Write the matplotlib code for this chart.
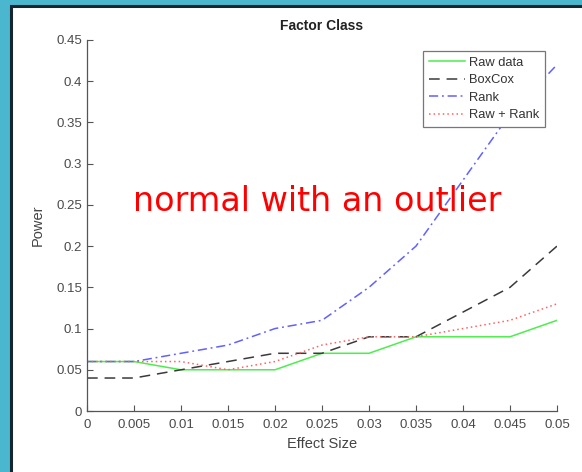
import numpy as np
import matplotlib
matplotlib.use('Agg')
import matplotlib.pyplot as plt
from matplotlib.patches import Rectangle

# effect sizes and power for each method
effect_size = [0, 0.005, 0.01, 0.015, 0.02, 0.025, 0.03, 0.035, 0.04, 0.045, 0.05]
raw_data = [0.06, 0.06, 0.05, 0.05, 0.05, 0.07, 0.07, 0.09, 0.09, 0.09, 0.11]
boxcox = [0.04, 0.04, 0.05, 0.06, 0.07, 0.07, 0.09, 0.09, 0.12, 0.15, 0.20]
rank = [0.06, 0.06, 0.07, 0.08, 0.10, 0.11, 0.15, 0.20, 0.28, 0.36, 0.42]
raw_rank = [0.06, 0.06, 0.06, 0.05, 0.06, 0.08, 0.09, 0.09, 0.10, 0.11, 0.13]

x_ticks = [0, 0.005, 0.01, 0.015, 0.02, 0.025, 0.03, 0.035, 0.04, 0.045, 0.05]
x_labels = ['0', '0.005', '0.01', '0.015', '0.02', '0.025', '0.03', '0.035', '0.04', '0.045', '0.05']
y_ticks = [0, 0.05, 0.1, 0.15, 0.2, 0.25, 0.3, 0.35, 0.4, 0.45]
y_labels = ['0', '0.05', '0.1', '0.15', '0.2', '0.25', '0.3', '0.35', '0.4', '0.45']

plt.rcParams['font.family'] = ['Liberation Sans', 'DejaVu Sans']

fig = plt.figure(figsize=(5.82, 4.72), dpi=100, facecolor='#4bb7cf')
# white sheet with a dark frame, kept behind the axes
sheet = Rectangle((11 / 582, -0.05), 1.2, 1 - 6 / 472 + 0.05,
                  transform=fig.transFigure, facecolor='white',
                  edgecolor='#17252e', linewidth=2.2, zorder=-10)
fig.add_artist(sheet)

ax = fig.add_axes([87 / 582, 61 / 472, 470 / 582, 371 / 472])
ax.set_zorder(1)
ax.set_facecolor('white')

ax.plot(effect_size, raw_data, color='#4cee4c', lw=1.1, label='Raw data')
ax.plot(effect_size, boxcox, color='#3a3a3a', lw=1.1, ls=(0, (7, 4.5)), label='BoxCox')
ax.plot(effect_size, rank, color='#6161ff', lw=1.1, ls=(0, (6, 2.5, 1.2, 2.5)), label='Rank')
ax.plot(effect_size, raw_rank, color='#ff6161', lw=1.1, ls=(0, (1, 2)), label='Raw + Rank')

ax.set_xlim(0, 0.05)
ax.set_ylim(0, 0.45)
ax.set_xticks(x_ticks)
ax.set_xticklabels(x_labels)
ax.set_yticks(y_ticks)
ax.set_yticklabels(y_labels)

for side in ['top', 'right']:
    ax.spines[side].set_visible(False)
for side in ['left', 'bottom']:
    ax.spines[side].set_color('#555555')
    ax.spines[side].set_linewidth(0.9)
ax.tick_params(direction='in', length=4, width=0.8, colors='#555555',
               labelcolor='#4a4a4a', labelsize=9.5)
ax.tick_params(axis='x', pad=6)

ax.set_title('Factor Class', fontsize=10, fontweight='bold', color='#222222', pad=7)
ax.set_xlabel('Effect Size', fontsize=10.5, color='#444444', labelpad=4)
ax.set_ylabel('Power', fontsize=10.5, color='#444444', labelpad=8)

leg = ax.legend(loc='upper right', bbox_to_anchor=(0.975, 0.97), fontsize=9.3,
                fancybox=False, framealpha=1, edgecolor='#777777',
                handlelength=2.8, handletextpad=0.3, borderpad=0.45,
                labelspacing=0.42, borderaxespad=0)
leg.get_frame().set_linewidth(0.9)
for t in leg.get_texts():
    t.set_color('#333333')

ax.text(0.0245, 0.2545, 'normal with an outlier', color='red', fontsize=24,
        family=['DejaVu Sans'], ha='center', va='center')

fig.savefig('out.png', dpi=100, facecolor=fig.get_facecolor())
